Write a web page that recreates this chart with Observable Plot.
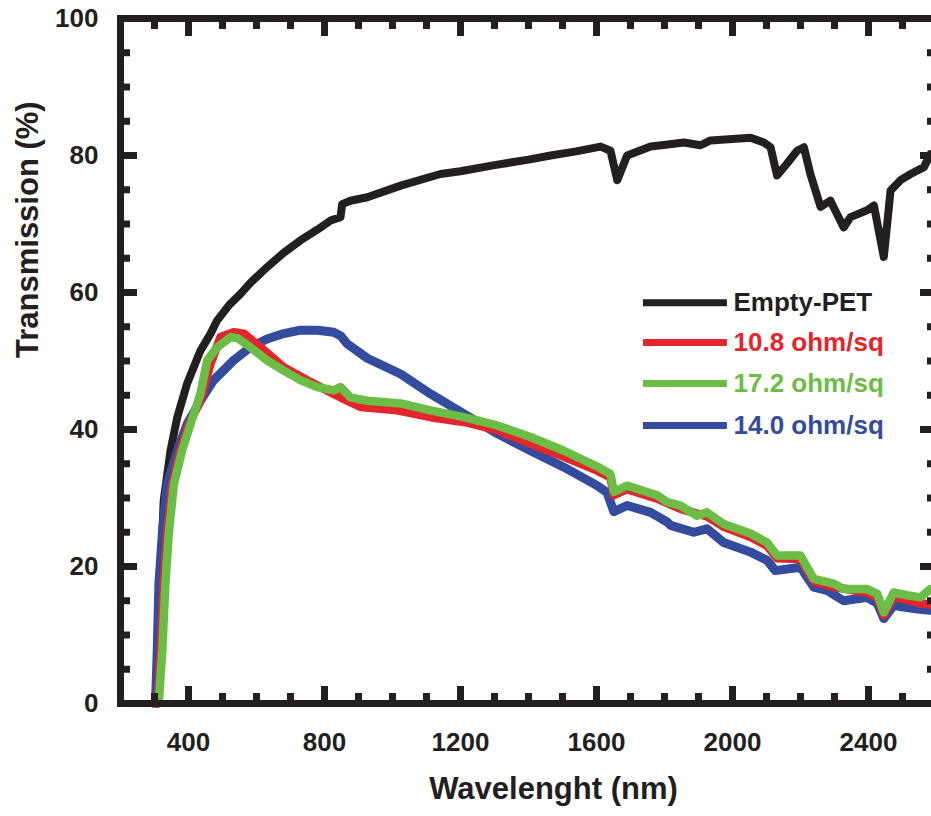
<!DOCTYPE html>
<html>
<head>
<meta charset="utf-8">
<script src="https://cdn.jsdelivr.net/npm/d3@7"></script>
<script src="https://cdn.jsdelivr.net/npm/@observablehq/plot@0.6"></script>
<style>
html, body { margin: 0; padding: 0; background: #fff; overflow: hidden; }
#chart { width: 931px; height: 816px; overflow: hidden; }
#chart svg { max-width: none !important; }
</style>
</head>
<body>
<div id="chart"></div>
<script>
// ---- data ----
const petNm = [300, 305, 308, 316, 321, 327, 347, 367, 396, 435, 465, 484, 520, 553, 582, 631, 680, 729, 780, 818, 847, 852, 876, 926, 1024, 1141, 1200, 1300, 1400, 1465, 1540, 1612, 1641, 1661, 1690, 1759, 1810, 1857, 1906, 1935, 2000, 2053, 2092, 2112, 2131, 2160, 2190, 2210, 2229, 2259, 2288, 2327, 2347, 2396, 2416, 2445, 2465, 2494, 2524, 2563, 2582, 2600];
const petT  = [0, 0, 0.9, 12.6, 22.3, 29.6, 36.9, 41.8, 46.7, 51.5, 54, 55.9, 58.2, 59.8, 61.4, 63.7, 65.8, 67.6, 69.2, 70.5, 71, 72.9, 73.4, 73.9, 75.6, 77.3, 77.7, 78.6, 79.4, 80, 80.6, 81.3, 80.7, 76.4, 80, 81.3, 81.6, 81.9, 81.5, 82.2, 82.4, 82.6, 81.9, 81.2, 77.1, 78.8, 80.7, 81.2, 77.3, 72.5, 73.4, 69.5, 71, 72, 72.7, 65.2, 74.9, 76.4, 77.3, 78.3, 80.2, 80];

const redNm = [300, 310, 318, 327, 337, 352, 376, 401, 435, 465, 494, 533, 563, 612, 680, 749, 827, 876, 906, 1014, 1112, 1210, 1308, 1406, 1504, 1602, 1641, 1651, 1690, 1778, 1847, 1925, 1974, 2053, 2102, 2131, 2200, 2239, 2298, 2396, 2426, 2445, 2474, 2553, 2600];
const redT  = [0, 0, 7.7, 17.5, 24.8, 32, 36.9, 40.8, 44.2, 49.6, 53.5, 54.2, 54, 52, 49.1, 47.2, 45.2, 44, 43.3, 42.8, 41.8, 41.1, 39.9, 37.9, 36, 34, 33, 30.4, 31.3, 29.9, 28.4, 27.3, 25.8, 24.3, 23, 21.2, 21.1, 17.8, 17, 16.2, 15.5, 12.9, 15.6, 14.6, 14.4];

const greenNm = [300, 313, 323, 332, 342, 357, 381, 406, 435, 455, 484, 524, 545, 582, 631, 680, 729, 778, 827, 847, 876, 926, 1024, 1112, 1210, 1308, 1406, 1504, 1602, 1641, 1651, 1690, 1778, 1808, 1847, 1896, 1925, 1974, 2053, 2102, 2131, 2200, 2239, 2298, 2327, 2396, 2426, 2445, 2474, 2514, 2553, 2582, 2600];
const greenT  = [0, 0.4, 7.7, 17.5, 24.8, 32, 36.9, 40.8, 45.2, 50.1, 52, 53.5, 53.3, 52, 50.1, 48.6, 47.2, 46.2, 45.7, 46.2, 44.7, 44.2, 43.8, 42.8, 41.8, 40.6, 38.9, 36.9, 34.6, 33.5, 30.9, 31.8, 30.4, 29.4, 28.9, 27.4, 27.9, 26.2, 24.8, 23.5, 21.6, 21.6, 18.2, 17.5, 16.7, 16.7, 16, 13.3, 16.2, 15.8, 15.5, 16.7, 16.5];

const blueNm = [300, 303, 308, 313, 323, 337, 367, 396, 435, 474, 533, 582, 631, 680, 729, 780, 827, 847, 867, 926, 1024, 1112, 1210, 1308, 1406, 1504, 1602, 1631, 1651, 1690, 1759, 1808, 1818, 1886, 1925, 1974, 2053, 2102, 2126, 2200, 2239, 2278, 2327, 2396, 2426, 2445, 2474, 2543, 2582, 2600];
const blueT  = [0, 0, 7.7, 17.5, 24.8, 32, 36.9, 40.8, 44.2, 47.2, 50.1, 52, 53.2, 54, 54.5, 54.5, 54.2, 53.7, 52.5, 50.4, 48.1, 45.2, 42.3, 39.4, 36.9, 34.5, 31.8, 30.8, 28, 28.9, 27.9, 26.5, 26, 25, 25.5, 23.5, 22.1, 20.9, 19.4, 19.9, 17, 16.5, 15, 15.5, 14.6, 12.4, 14.3, 13.8, 13.6, 13.6];

const legendNames  = ["Empty-PET", "10.8 ohm/sq", "17.2 ohm/sq", "14.0 ohm/sq"];
const legendColors = ["#231f20", "#e3262b", "#6cbd45", "#334c9e"];
const legendY      = [58.5, 52.7, 46.7, 40.6];

const xMajor = [400, 800, 1200, 1600, 2000, 2400];
const xMinor = d3.range(300, 2600, 100).filter(v => v % 400 !== 0);
const yMajor = [0, 20, 40, 60, 80, 100];
const yMinor = d3.range(5, 100, 5).filter(v => v % 20 !== 0);

const xTitle = "Wavelenght (nm)";
const yTitle = "Transmission (%)";

// ---- chart ----
const ink = "#231f20";
const toRows = (xs, ys) => xs.map((x, i) => ({x, y: ys[i]}));
const series = [
  {rows: toRows(petNm, petT), color: legendColors[0], w: 8},
  {rows: toRows(blueNm, blueT), color: legendColors[3], w: 9},
  {rows: toRows(redNm, redT), color: legendColors[1], w: 8.5},
  {rows: toRows(greenNm, greenT), color: legendColors[2], w: 8.5}
];
const legendIdx = d3.range(legendNames.length);
const font = "'Liberation Sans', Arial, Helvetica, sans-serif";

const tickOpts = (extra) => Object.assign({stroke: ink, strokeWidth: 7, fill: "none", label: null}, extra);

const chart = Plot.plot({
  width: 945,
  height: 816,
  marginLeft: 120,
  marginRight: 9,
  marginTop: 18,
  marginBottom: 113,
  x: {domain: [200, 2600], label: null},
  y: {domain: [0, 100], label: null},
  style: {fontFamily: font, background: "white", color: ink, maxWidth: "none"},
  marks: [
    ...series.map(s => Plot.line(s.rows, {x: "x", y: "y", stroke: s.color, strokeWidth: s.w, strokeLinejoin: "round"})),
    Plot.ruleY(legendIdx, {y: i => legendY[i], x1: 1738, x2: 1985, stroke: i => legendColors[i], strokeWidth: 7}),
    Plot.text(legendIdx, {x: 2003, y: i => legendY[i], text: i => legendNames[i], fill: i => legendColors[i], textAnchor: "start", fontSize: 26, fontWeight: "bold"}),
    Plot.frame({stroke: ink, strokeWidth: 7}),
    Plot.axisX(xMajor, tickOpts({anchor: "bottom", tickSize: -17})),
    Plot.axisX(xMinor, tickOpts({anchor: "bottom", tickSize: -10})),
    Plot.axisX(xMajor, tickOpts({anchor: "top", tickSize: -17})),
    Plot.axisX(xMinor, tickOpts({anchor: "top", tickSize: -10})),
    Plot.axisY(yMajor, tickOpts({anchor: "left", tickSize: -17})),
    Plot.axisY(yMinor, tickOpts({anchor: "left", tickSize: -10})),
    Plot.axisY(yMajor, tickOpts({anchor: "right", tickSize: -17})),
    Plot.axisY(yMinor, tickOpts({anchor: "right", tickSize: -10})),
    Plot.axisX(xMajor, {anchor: "bottom", tickSize: 0, tickPadding: 29, tickFormat: d => String(d), fontSize: 26, fontWeight: "bold", fill: ink, label: null}),
    Plot.axisY(yMajor, {anchor: "left", tickSize: 0, tickPadding: 22, tickFormat: d => String(d), fontSize: 26, fontWeight: "bold", fill: ink, label: null}),
    Plot.text([xTitle], {text: d => d, frameAnchor: "bottom", dx: 25, dy: 95, fontSize: 31, fontWeight: "bold", fill: ink}),
    Plot.text([yTitle], {text: d => d, frameAnchor: "left", rotate: -90, dx: -92, dy: -3, fontSize: 31, fontWeight: "bold", fill: ink})
  ]
});
chart.style.maxWidth = "none";
document.getElementById("chart").appendChild(chart);
</script>
</body>
</html>
